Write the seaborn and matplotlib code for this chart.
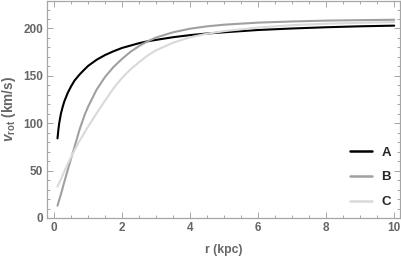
import pandas as pd
import seaborn as sns
import matplotlib.pyplot as plt
from matplotlib.ticker import MultipleLocator

# radius (kpc) and rotation speed (km/s)
r_kpc = [0.1, 0.125, 0.15, 0.2, 0.25, 0.3, 0.4, 0.5, 0.6, 0.75, 0.9, 1.0,
         1.25, 1.5, 1.75, 2.0, 2.25, 2.5, 2.75, 3.0, 3.5, 4.0, 4.5, 5.0,
         6.0, 7.0, 8.0, 9.0, 10.0]
v_a = [84, 93, 100, 110, 117, 123, 132, 139, 145, 151.5, 157, 160.5,
       167, 172, 176, 179.5, 182, 184.5, 186.5, 188, 190.8, 193, 194.7, 196,
       198.4, 200, 201.3, 202.3, 203]
v_b = [13, 16, 19, 25, 31.5, 38, 50.5, 63, 75, 93.5, 109, 117.5,
       135.5, 149, 159.5, 168, 175.5, 181.5, 186.5, 190.5, 196, 199.8, 202.3, 204,
       206.2, 207.4, 208.3, 208.8, 209.2]
v_c = [33, 35, 37, 41, 45, 49, 57, 64.5, 71.5, 81.5, 90.5, 96.5,
       110.5, 124, 137, 148, 157, 164.5, 171.5, 177, 185, 190.8, 194.5, 197.2,
       201, 203.5, 205, 206, 206.8]
names = ["A", "B", "C"]
colors = ["#000000", "#a0a0a0", "#d9d9d9"]


def set_config():
    sns.set_style("ticks")
    plt.rcParams['font.family'] = ['Liberation Sans', 'DejaVu Sans']
    plt.rcParams['mathtext.fontset'] = 'custom'
    plt.rcParams['mathtext.it'] = 'Liberation Sans:italic:bold'
    plt.rcParams['mathtext.rm'] = 'Liberation Sans:bold'


def main():
    set_config()
    rows = []
    for name, vals in zip(names, [v_a, v_b, v_c]):
        for r, v in zip(r_kpc, vals):
            rows.append({"r": r, "v": v, "curve": name})
    df = pd.DataFrame(rows)

    fig = plt.figure(figsize=(4.02, 2.60), dpi=100)
    ax = fig.add_axes([47.3 / 402, 1 - 218 / 260, 352.7 / 402, 217 / 260])
    sns.lineplot(data=df, x="r", y="v", hue="curve", palette=colors,
                 linewidth=1.5, ax=ax)

    ax.set_xlim(-0.2, 10.17)
    ax.set_ylim(0, 229)
    ax.xaxis.set_major_locator(MultipleLocator(2))
    ax.xaxis.set_minor_locator(MultipleLocator(0.5))
    ax.yaxis.set_major_locator(MultipleLocator(50))
    ax.yaxis.set_minor_locator(MultipleLocator(10))

    frame = "#a6a6a6"
    for s in ax.spines.values():
        s.set_visible(True)
        s.set_color(frame)
        s.set_linewidth(0.9)
    ax.tick_params(which="both", direction="in", top=True, right=True,
                   color=frame, width=0.7)
    ax.tick_params(which="major", length=4, labelsize=8.5,
                   labelcolor="#666666", pad=3)
    ax.tick_params(which="minor", length=2)
    for lab in ax.get_xticklabels() + ax.get_yticklabels():
        lab.set_fontweight("bold")

    ax.set_xlabel("r (kpc)", fontsize=8.8, color="#666666",
                  fontweight="bold", labelpad=7)
    ax.set_ylabel(r"$v_{\mathrm{rot}}$ (km/s)", fontsize=9.8,
                  color="#666666", fontweight="bold", labelpad=4)

    leg = ax.legend(loc="lower right", bbox_to_anchor=(0.975, 0.045),
                    frameon=False, fontsize=9.5, handlelength=1.7,
                    handletextpad=0.7, labelspacing=0.95, borderpad=0,
                    borderaxespad=0)
    for t in leg.get_texts():
        t.set_fontweight("bold")
    for h in leg.get_lines():
        h.set_linewidth(1.8)

    fig.savefig("out.png", dpi=100)


if __name__ == "__main__":
    main()
